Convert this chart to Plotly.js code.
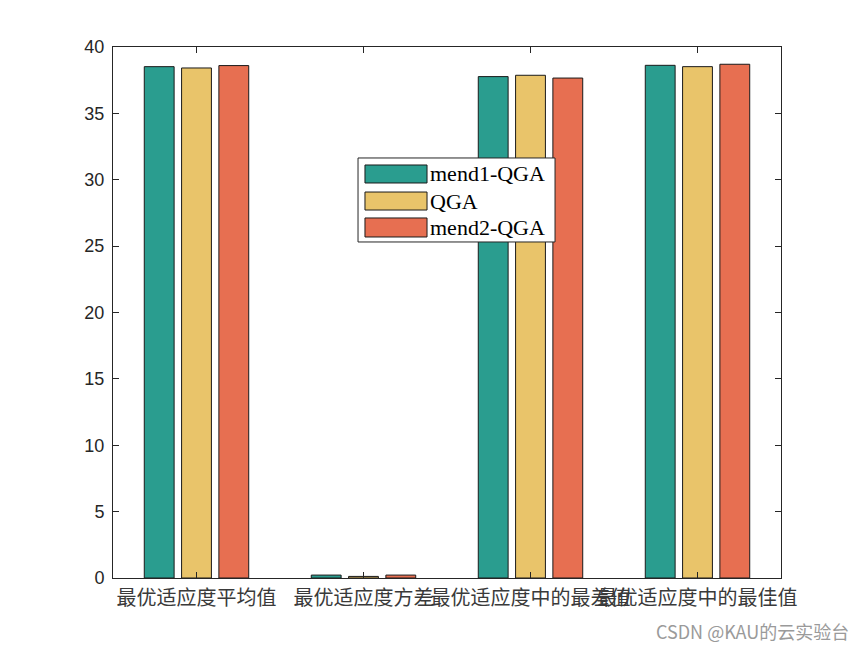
<!DOCTYPE html>
<html>
<head>
<meta charset="utf-8">
<script src="https://cdn.plot.ly/plotly-3.0.1.min.js"></script>
<style>html,body{margin:0;padding:0;background:#fff;}#chart{width:865px;height:650px;}</style>
</head>
<body>
<div id="chart"></div>
<script>
const categories = ["最优适应度平均值", "最优适应度方差", "最优适应度中的最差值", "最优适应度中的最佳值"];
const seriesNames = ["mend1-QGA", "QGA", "mend2-QGA"];
const mend1QGA = [38.52, 0.22, 37.77, 38.62];
const QGA = [38.42, 0.12, 37.87, 38.52];
const mend2QGA = [38.6, 0.22, 37.66, 38.7];
const seriesColors = ["#2a9d8f", "#e9c46a", "#e76f51"];
const yTicks = [0, 5, 10, 15, 20, 25, 30, 35, 40];

const xPos = categories.map((c, i) => i + 1);
const seriesValues = [mend1QGA, QGA, mend2QGA];

const traces = seriesValues.map((vals, k) => ({
  type: "bar",
  x: xPos,
  y: vals,
  name: seriesNames[k],
  marker: { color: seriesColors[k], line: { color: "#1a1a1a", width: 1 } },
  showlegend: false,
  hoverinfo: "y"
}));

// custom legend (MATLAB style wide swatches)
const legBox = { x0: 0.3668, x1: 0.6617, y0: 0.6328, y1: 0.791 };
const rows = [
  { y0: 0.7439, y1: 0.7778 },
  { y0: 0.6930, y1: 0.7269 },
  { y0: 0.6422, y1: 0.6780 }
];
const shapes = [{
  type: "rect", xref: "paper", yref: "paper",
  x0: legBox.x0, x1: legBox.x1, y0: legBox.y0, y1: legBox.y1,
  fillcolor: "#ffffff", line: { color: "#262626", width: 1 }, layer: "above"
}];
const annotations = [];
rows.forEach((r, k) => {
  shapes.push({
    type: "rect", xref: "paper", yref: "paper",
    x0: 0.3772, x1: 0.4701, y0: r.y0, y1: r.y1,
    fillcolor: seriesColors[k], line: { color: "#1a1a1a", width: 1 }, layer: "above"
  });
  annotations.push({
    xref: "paper", yref: "paper", x: 0.4716, y: (r.y0 + r.y1) / 2,
    xanchor: "left", yanchor: "middle", showarrow: false,
    text: seriesNames[k],
    font: { family: "Liberation Serif, Times New Roman, serif", size: 22, color: "#000" }
  });
});
annotations.push({
  xref: "paper", yref: "paper", x: 1.105, y: -0.1, xanchor: "right", yanchor: "middle",
  showarrow: false, text: "CSDN @KAU的云实验台",
  font: { family: "Noto Sans CJK SC, Liberation Sans, sans-serif", size: 18, color: "#9a9a9a" }
});

const layout = {
  width: 865, height: 650,
  margin: { l: 113, r: 84, t: 47, b: 72 },
  paper_bgcolor: "#fff", plot_bgcolor: "#fff",
  barmode: "group", bargap: 0.33, bargroupgap: 0.2,
  showlegend: false,
  xaxis: {
    range: [0.5, 4.5], tickmode: "array", tickvals: xPos, ticktext: categories,
    ticks: "inside", ticklen: 6, tickcolor: "#262626", mirror: "ticks",
    showline: true, linecolor: "#262626", linewidth: 1, showgrid: false, zeroline: false,
    tickfont: { family: "Noto Sans CJK SC, sans-serif", size: 20, color: "#3a3a3a" },
    tickangle: 0, automargin: false, ticklabelstandoff: 2
  },
  yaxis: {
    range: [0, 40], tickmode: "array", tickvals: yTicks, ticktext: yTicks.map(String),
    ticks: "inside", ticklen: 6, tickcolor: "#262626", mirror: "ticks",
    showline: true, linecolor: "#262626", linewidth: 1, showgrid: false, zeroline: false,
    tickfont: { family: "Liberation Sans, Arial, sans-serif", size: 18, color: "#262626" },
    automargin: false, ticklabelstandoff: 4
  },
  shapes: shapes,
  annotations: annotations
};

Plotly.newPlot("chart", traces, layout, { displayModeBar: false, staticPlot: true });
</script>
</body>
</html>
